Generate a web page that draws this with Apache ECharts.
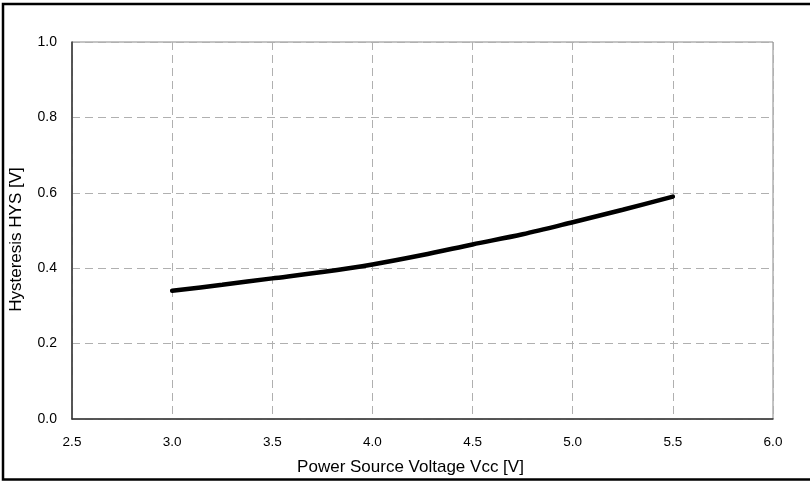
<!DOCTYPE html>
<html>
<head>
<meta charset="utf-8">
<script src="https://cdn.jsdelivr.net/npm/echarts@6/dist/echarts.min.js"></script>
<style>
html,body{margin:0;padding:0;background:#fff;}
#chart{width:810px;height:481px;}
</style>
</head>
<body>
<div id="chart"></div>
<script>
const vccValues = [3.0, 3.25, 3.5, 3.75, 4.0, 4.25, 4.5, 4.75, 5.0, 5.25, 5.5];
const hysValues = [0.340, 0.356, 0.373, 0.390, 0.410, 0.435, 0.463, 0.490, 0.522, 0.555, 0.590];
const xTicks = [2.5, 3.0, 3.5, 4.0, 4.5, 5.0, 5.5, 6.0];
const yTicks = [0.0, 0.2, 0.4, 0.6, 0.8, 1.0];
const xName = 'Power Source Voltage Vcc [V]';
const yName = 'Hysteresis HYS [V]';

const chart = echarts.init(document.getElementById('chart'), null, {renderer: 'canvas'});
const font = 'Liberation Sans, Arial, sans-serif';
chart.setOption({
  animation: false,
  backgroundColor: '#fff',
  grid: {left: 72, right: 37, top: 42, bottom: 59.5, show: true, borderColor: '#888', borderWidth: 1, containLabel: false},
  xAxis: {
    type: 'value', min: xTicks[0], max: xTicks[xTicks.length - 1], interval: 0.5,
    name: xName, nameLocation: 'middle', nameGap: 40,
    nameTextStyle: {fontFamily: font, fontSize: 17, color: '#000', padding: [0, 24, 0, 0]},
    axisLine: {show: true, onZero: false, lineStyle: {color: '#333', width: 1.5}},
    axisTick: {show: false},
    axisLabel: {fontFamily: font, fontSize: 13.5, color: '#000', margin: 16, formatter: v => v.toFixed(1)},
    splitLine: {show: true, lineStyle: {color: '#b0b0b0', type: [8, 5], width: 1}}
  },
  yAxis: {
    type: 'value', min: yTicks[0], max: yTicks[yTicks.length - 1], interval: 0.2,
    name: yName, nameLocation: 'middle', nameGap: 47, nameRotate: 90,
    nameTextStyle: {fontFamily: font, fontSize: 17, color: '#000', padding: [0, 18, 0, 0]},
    axisLine: {show: true, lineStyle: {color: '#333', width: 1.5}},
    axisTick: {show: false},
    axisLabel: {fontFamily: font, fontSize: 14, color: '#000', margin: 15, formatter: v => v.toFixed(1)},
    splitLine: {show: true, lineStyle: {color: '#b0b0b0', type: [8, 5], width: 1}}
  },
  series: [{
    type: 'line',
    data: vccValues.map((x, i) => [x, hysValues[i]]),
    showSymbol: false,
    smooth: 0.3,
    lineStyle: {color: '#000', width: 4.5, cap: 'round'}
  }],
  graphic: [{
    type: 'polyline', silent: true,
    shape: {points: [[820, 4], [3, 4], [3, 479.5], [820, 479.5]]},
    style: {stroke: '#000', lineWidth: 2.5, fill: null}
  }]
});
</script>
</body>
</html>
